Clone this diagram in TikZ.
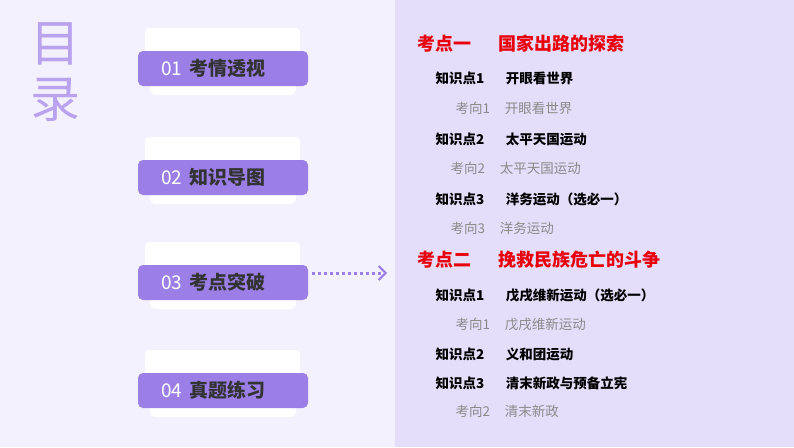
\documentclass[tikz,border=0pt]{standalone}
\usepackage{fontspec}
\setmainfont{Noto Sans CJK SC}
\usetikzlibrary{arrows.meta}
\definecolor{bgl}{HTML}{F3F1FD}
\definecolor{bgr}{HTML}{E4DEFA}
\definecolor{btn}{HTML}{9B7FE6}
\definecolor{ttl}{HTML}{B9A3EE}
\definecolor{hdr}{HTML}{E8000B}
\definecolor{gry}{HTML}{8A8A8A}
\tikzset{
  hd/.style={anchor=west,text=hdr,font=\bfseries\fontsize{18}{20}\selectfont},
  kp/.style={anchor=west,font=\bfseries\fontsize{13.5}{15}\selectfont},
  kx/.style={anchor=west,text=gry,font=\fontsize{13.5}{15}\selectfont},
  lb/.style={font=\fontsize{19}{21}\selectfont,inner sep=0pt}
}
\newcommand{\menubtn}[4]{%
  \fill[white,rounded corners=4pt] (145,#1-40) rectangle (300,#1-12);
  \fill[white,rounded corners=6pt] (150,#1+10) rectangle (296,#1+27);
  \fill[btn,rounded corners=5pt] (138,#1-17) rectangle (308,#1+18);
  \node[lb,anchor=west] (#4) at (161,#1) {\textcolor{white}{#2}\hspace{7pt}\textcolor{black!80}{\bfseries #3}};
}
\begin{document}
\begin{tikzpicture}[x=1pt,y=-1pt]
\useasboundingbox (0,0) rectangle (794,447);
\fill[bgl] (0,0) rectangle (395,447);
\fill[bgr] (395,0) rectangle (794,447);
% title
\node[text=ttl,font=\fontsize{50}{54}\selectfont] (mu) at (55,44) {目};
\node[text=ttl,font=\fontsize{50}{54}\selectfont] (lu) at (55,100) {录};
% buttons
\menubtn{68}{01}{考情透视}{b1}
\menubtn{177}{02}{知识导图}{b2}
\menubtn{282}{03}{考点突破}{b3}
\menubtn{390}{04}{真题练习}{b4}
\coordinate (as) at (312,273);
\coordinate (ae) at (387,273);
\draw[btn,line width=3pt,dash pattern=on 3pt off 3pt,-{Straight Barb[length=7pt,width=14pt,line width=2pt]}] (as) -- (ae);
% contents
\node[hd] (h1) at (414,44) {考点一\hspace{1.5em}国家出路的探索};
\node[kp] (k1) at (432,78) {知识点1\hspace{1.6em}开眼看世界};
\node[kx] (x1) at (452,108) {考向1\hspace{1.1em}开眼看世界};
\node[kp] (k2) at (432,139) {知识点2\hspace{1.6em}太平天国运动};
\node[kx] (x2) at (447,168) {考向2\hspace{1.1em}太平天国运动};
\node[kp] (k3) at (432,199) {知识点3\hspace{1.6em}洋务运动（选必一）};
\node[kx] (x3) at (447,228) {考向3\hspace{1.1em}洋务运动};
\node[hd] (h2) at (414,260) {考点二\hspace{1.5em}挽救民族危亡的斗争};
\node[kp] (k4) at (432,295) {知识点1\hspace{1.6em}戊戌维新运动（选必一）};
\node[kx] (x4) at (452,324) {考向1\hspace{1.1em}戊戌维新运动};
\node[kp] (k5) at (432,354) {知识点2\hspace{1.6em}义和团运动};
\node[kp] (k6) at (432,383) {知识点3\hspace{1.6em}清末新政与预备立宪};
\node[kx] (x5) at (452,411) {考向2\hspace{1.1em}清末新政};
\end{tikzpicture}
\end{document}
